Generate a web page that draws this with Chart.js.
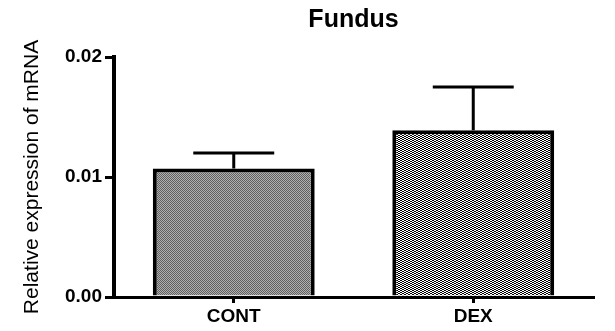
<!DOCTYPE html>
<html>
<head>
<meta charset="utf-8">
<script src="https://cdn.jsdelivr.net/npm/chart.js@4"></script>
<style>
  html, body { margin: 0; padding: 0; background: #fff; }
  #wrap { width: 615px; height: 331px; }
</style>
</head>
<body>
<div id="wrap"><canvas id="c" width="615" height="331"></canvas></div>
<script>
// Group labels, means and upper SEM for the Fundus mRNA expression
const categories = ['CONT', 'DEX'];
const means = [0.0107, 0.0139];
const sem = [0.0013, 0.0036];
const yTicks = [0.00, 0.01, 0.02];

// Hatched fills: fine grey checker for control, black/white weave for DEX
function makePattern(w, h, cells) {
  const p = document.createElement('canvas');
  p.width = w; p.height = h;
  const g = p.getContext('2d');
  cells.forEach(([x, y, cw, ch, col]) => { g.fillStyle = col; g.fillRect(x, y, cw, ch); });
  return g.createPattern(p, 'repeat');
}
const ctx = document.getElementById('c').getContext('2d');
const greyFill = makePattern(2, 2, [
  [0, 0, 2, 2, '#b0b0b0'], [0, 0, 1, 1, '#606060'], [1, 1, 1, 1, '#606060']
]);
const weaveFill = makePattern(4, 2, [
  [0, 0, 4, 2, '#ffffff'], [0, 0, 2, 1, '#000000'], [2, 1, 2, 1, '#000000']
]);

// Upper error bars with caps
const errorBars = {
  id: 'errorBars',
  afterDatasetsDraw(chart) {
    const meta = chart.getDatasetMeta(0);
    const y = chart.scales.y;
    const c = chart.ctx;
    c.save();
    c.strokeStyle = '#000';
    c.lineWidth = 3;
    meta.data.forEach((bar, i) => {
      const top = y.getPixelForValue(means[i] + sem[i]);
      const half = bar.width / 4;
      c.beginPath();
      c.moveTo(bar.x, bar.y);
      c.lineTo(bar.x, top);
      c.moveTo(bar.x - half, top);
      c.lineTo(bar.x + half, top);
      c.stroke();
    });
    c.restore();
  }
};

const FAMILY = 'Liberation Sans, Arial, sans-serif';

new Chart(ctx, {
  type: 'bar',
  data: {
    labels: categories,
    datasets: [{
      data: means,
      backgroundColor: [greyFill, weaveFill],
      borderColor: '#000',
      borderWidth: { left: 4, right: 4, top: 4, bottom: 0 },
      borderSkipped: false,
      barPercentage: 0.676,
      categoryPercentage: 1.0
    }]
  },
  options: {
    responsive: false,
    animation: false,
    events: [],
    layout: { padding: { top: 0, left: 0, right: 22, bottom: 0 } },
    plugins: {
      legend: { display: false },
      tooltip: { enabled: false },
      title: {
        display: true,
        fullSize: false,
        text: 'Fundus',
        color: '#000',
        font: { family: FAMILY, size: 25, weight: 'bold', lineHeight: 1.2 },
        padding: { top: 5, bottom: 22 }
      }
    },
    scales: {
      x: {
        afterFit(scale) { scale.height = 34; },
        border: { display: true, color: '#000', width: 3 },
        grid: { offset: false, drawOnChartArea: false, color: '#000', lineWidth: 3, tickLength: 6 },
        ticks: {
          color: '#000',
          padding: 2,
          font: { family: FAMILY, size: 19, weight: 'bold' }
        }
      },
      y: {
        min: 0,
        max: 0.02,
        afterFit(scale) { scale.width = 114; },
        afterBuildTicks(scale) { scale.ticks = yTicks.map(v => ({ value: v })); },
        border: { display: true, color: '#000', width: 4 },
        grid: { drawOnChartArea: false, color: '#000', lineWidth: 3, tickLength: 9 },
        ticks: {
          color: '#000',
          padding: 3,
          font: { family: FAMILY, size: 19, weight: 'bold' },
          callback: v => Number(v).toFixed(2)
        },
        title: {
          display: true,
          text: 'Relative expression of mRNA',
          color: '#000',
          font: { family: FAMILY, size: 21, lineHeight: 1.2 },
          padding: { top: 19.4, bottom: 0 }
        }
      }
    }
  },
  plugins: [errorBars]
});
</script>
</body>
</html>
